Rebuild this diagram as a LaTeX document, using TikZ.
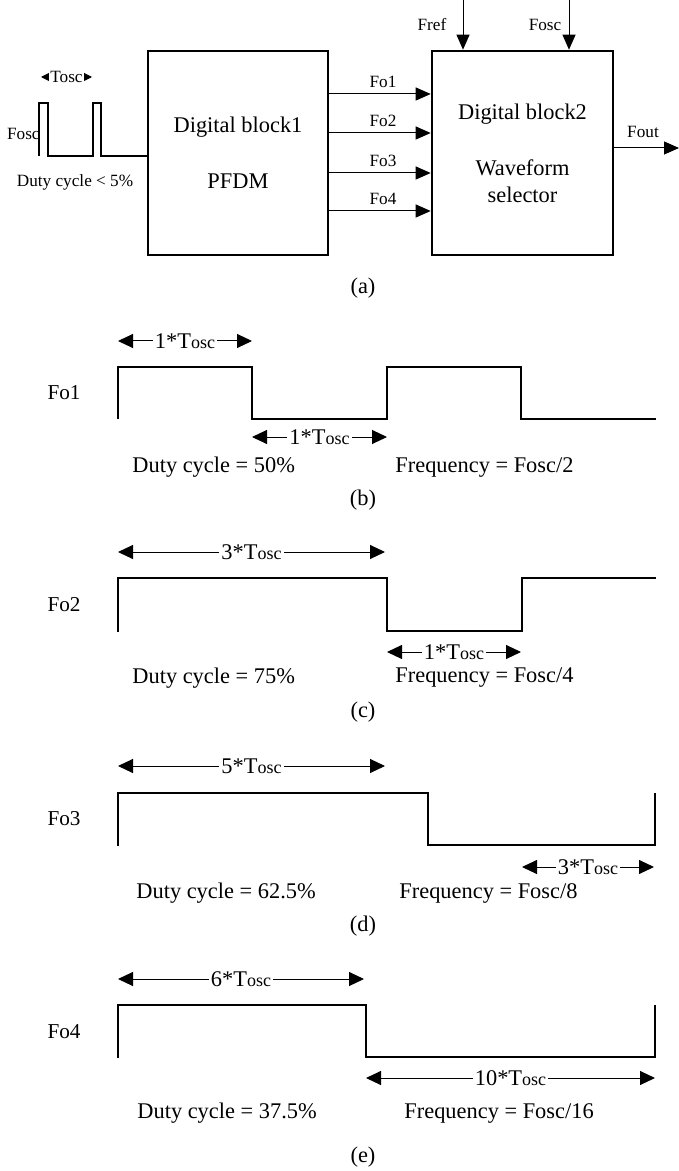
\documentclass[tikz,border=0pt]{standalone}
\usepackage{fontspec}
\setmainfont{Liberation Serif}
\usetikzlibrary{arrows.meta,positioning,calc}
\newcommand{\Tosc}{T{\fontsize{9}{10}\selectfont osc}}

\begin{document}
\begin{tikzpicture}[x=0.5pt, y=-0.5pt,
    blk/.style={draw, line width=1.3pt, minimum width=90pt, minimum height=102pt, align=center, font=\fontsize{11.2}{13.5}\selectfont},
    sig/.style={->, line width=0.5pt},
    wave/.style={line width=1.4pt},
    dim/.style={<->, line width=0.5pt, >={Triangle[length=7.5pt,width=7pt]}},
    lbl/.style={font=\fontsize{8.6}{10}\selectfont, inner sep=0pt},
    txt/.style={font=\fontsize{11.2}{13}\selectfont, inner sep=0pt},
    dimlbl/.style={txt, fill=white, inner xsep=1pt},
    >={Triangle[length=7.5pt,width=6.5pt]}
  ]
    \useasboundingbox (0,0) rectangle (679,1171);

    \node[blk] (b1) at (238,153) {Digital block1\\[14.5pt]PFDM};
    \node[blk, minimum width=90.5pt] (b2) at (522.5,153) {Digital block2\\[14.5pt]Waveform\\selector};

    \draw[line width=1.2pt] (39,156) -- (39,103) -- (48,103) -- (48,156) -- (93,156) -- (93,103) -- (101,103) -- (101,156) -- (b1.west |- 0,156);
    \draw[<->, line width=0.5pt, >={Triangle[length=4pt,width=4pt]}] (41,77) -- node[lbl, fill=white, inner xsep=0.5pt] (tin) {Tosc} (92,77);
    \node[lbl, anchor=east] (fin) at (40,134) {Fosc};
    \node[lbl] (din) at (75,182) {Duty cycle < 5\%};

    \foreach \y [count=\i] in {94,133,173,211}{
      \draw[sig] (b1.east |- 0,\y) -- node[lbl, above=3pt, xshift=1.5pt] (fo\i) {Fo\i} (b2.west |- 0,\y);
    }
    \coordinate (fr) at (463,0);
    \coordinate (fs) at (569,0);
    \coordinate (fe) at (679,148);
    \draw[sig] (fr) -- (fr |- b2.north);
    \draw[sig] (fs) -- (fs |- b2.north);
    \draw[sig] (b2.east |- fe) -- (fe);
    \node[lbl] (lfr) at (432,25) {Fref};
    \node[lbl] (lfs) at (545,25) {Fosc};
    \node[lbl] (lfe) at (643,132) {Fout};
    \node[txt] (ca) at (363,288) {(a)};

    \node[txt, font=\fontsize{10.6}{12}\selectfont] (w1) at (64,393) {Fo1};
    \draw[wave] (118,419) -- (118,367) -- (252,367) -- (252,419) -- (387,419) -- (387,367) -- (521,367) -- (521,419) -- (656,419);
    \draw[dim] (118,341) -- node[dimlbl] (t1a) {1*\Tosc} (252,341);
    \draw[dim] (252,437) -- node[dimlbl] (t1b) {1*\Tosc} (387,437);
    \node[txt, anchor=west] (dc1) at (132,467) {Duty cycle = 50\%};
    \node[txt, anchor=west] (fq1) at (395,467) {Frequency = Fosc/2};
    \node[txt] (cb) at (363,500) {(b)};

    \node[txt, font=\fontsize{10.6}{12}\selectfont] (w2) at (64,605) {Fo2};
    \draw[wave] (118,632) -- (118,578) -- (387,578) -- (387,631) -- (522,631) -- (522,578) -- (656,578);
    \draw[dim] (118,552) -- node[dimlbl] (t2a) {3*\Tosc} (385,552);
    \draw[dim] (387,652) -- node[dimlbl] (t2b) {1*\Tosc} (521,652);
    \node[txt, anchor=west] (dc2) at (132,678) {Duty cycle = 75\%};
    \node[txt, anchor=west] (fq2) at (395,678) {Frequency = Fosc/4};
    \node[txt] (cc) at (363,712) {(c)};

    \node[txt, font=\fontsize{10.6}{12}\selectfont] (w3) at (64,819) {Fo3};
    \draw[wave] (118,846) -- (118,793) -- (428,793) -- (428,845) -- (655,845) -- (655,793);
    \draw[dim] (118,766) -- node[dimlbl] (t3a) {5*\Tosc} (385,766);
    \draw[dim] (522,867) -- node[dimlbl] (t3b) {3*\Tosc} (654,867);
    \node[txt, anchor=west] (dc3) at (136,893) {Duty cycle = 62.5\%};
    \node[txt, anchor=west] (fq3) at (399,893) {Frequency = Fosc/8};
    \node[txt] (cd) at (363,926) {(d)};

    \node[txt, font=\fontsize{10.6}{12}\selectfont] (w4) at (64,1032) {Fo4};
    \draw[wave] (118,1058) -- (118,1005) -- (366,1005) -- (366,1057) -- (655,1057) -- (655,1005);
    \draw[dim] (118,979) -- node[dimlbl] (t4a) {6*\Tosc} (364,979);
    \draw[dim] (366,1078) -- node[dimlbl] (t4b) {10*\Tosc} (655,1078);
    \node[txt, anchor=west] (dc4) at (137,1113) {Duty cycle = 37.5\%};
    \node[txt, anchor=west] (fq4) at (404,1113) {Frequency = Fosc/16};
    \node[txt] (ce) at (363,1157) {(e)};
  \end{tikzpicture}
\end{document}
